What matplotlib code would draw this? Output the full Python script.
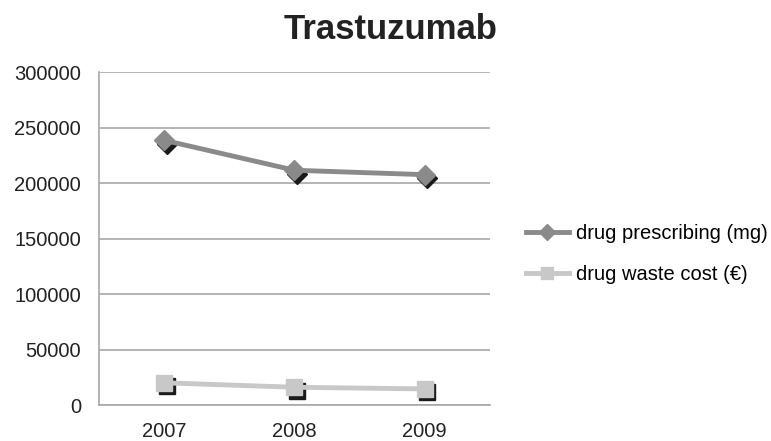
import matplotlib
matplotlib.use("Agg")
import matplotlib.pyplot as plt
from matplotlib import transforms

years = ["2007", "2008", "2009"]
prescribing = [238500, 211500, 207500]
waste_cost = [20000, 16000, 14500]
yticks = [0, 50000, 100000, 150000, 200000, 250000, 300000]

plt.rcParams['font.family'] = ['Liberation Sans', 'DejaVu Sans']

fig = plt.figure(figsize=(7.71, 4.41), dpi=100)
ax = fig.add_axes([0.1284, 0.0816, 0.5071, 0.7551])
x = [i + 0.5 for i in range(len(years))]

shadow = transforms.offset_copy(ax.transData, fig=fig, x=2.5, y=-3.5, units='dots')
ax.plot(x, prescribing, linestyle='none', marker='D', markersize=10, color='#1a1a1a', transform=shadow, zorder=3)
ax.plot(x, waste_cost, linestyle='none', marker='s', markersize=11, color='#1a1a1a', transform=shadow, zorder=3)
ax.plot(x, prescribing, color='#8a8a8a', lw=3.5, marker='D', markersize=10, zorder=4,
        label='drug prescribing (mg)')
ax.plot(x, waste_cost, color='#c8c8c8', lw=3.5, marker='s', markersize=11, zorder=4,
        label='drug waste cost (€)')

ax.set_xlim(0, 3)
ax.set_ylim(0, 300000)
ax.set_yticks(yticks)
ax.set_yticklabels([str(v) for v in yticks])
ax.set_xticks(x)
ax.set_xticklabels(years)
ax.tick_params(length=0, labelsize=14.5, colors='#222222')
ax.tick_params(axis='y', pad=13)
ax.tick_params(axis='x', pad=12)
ax.grid(axis='y', color='#a8a8a8', lw=1.2)
ax.set_axisbelow(True)
for s in ['top', 'right']:
    ax.spines[s].set_visible(False)
for s in ['left', 'bottom']:
    ax.spines[s].set_color('#a8a8a8')
    ax.spines[s].set_linewidth(1.2)

fig.text(0.506, 0.932, 'Trastuzumab', ha='center', va='center', fontsize=25, fontweight='bold', color='#222222')

fig.legend(loc='center left', bbox_to_anchor=(0.659, 0.424), frameon=False, fontsize=14.5,
           handlelength=2.1, labelspacing=1.05, handletextpad=0.35, markerscale=0.8)

fig.savefig('out.png', dpi=100)
